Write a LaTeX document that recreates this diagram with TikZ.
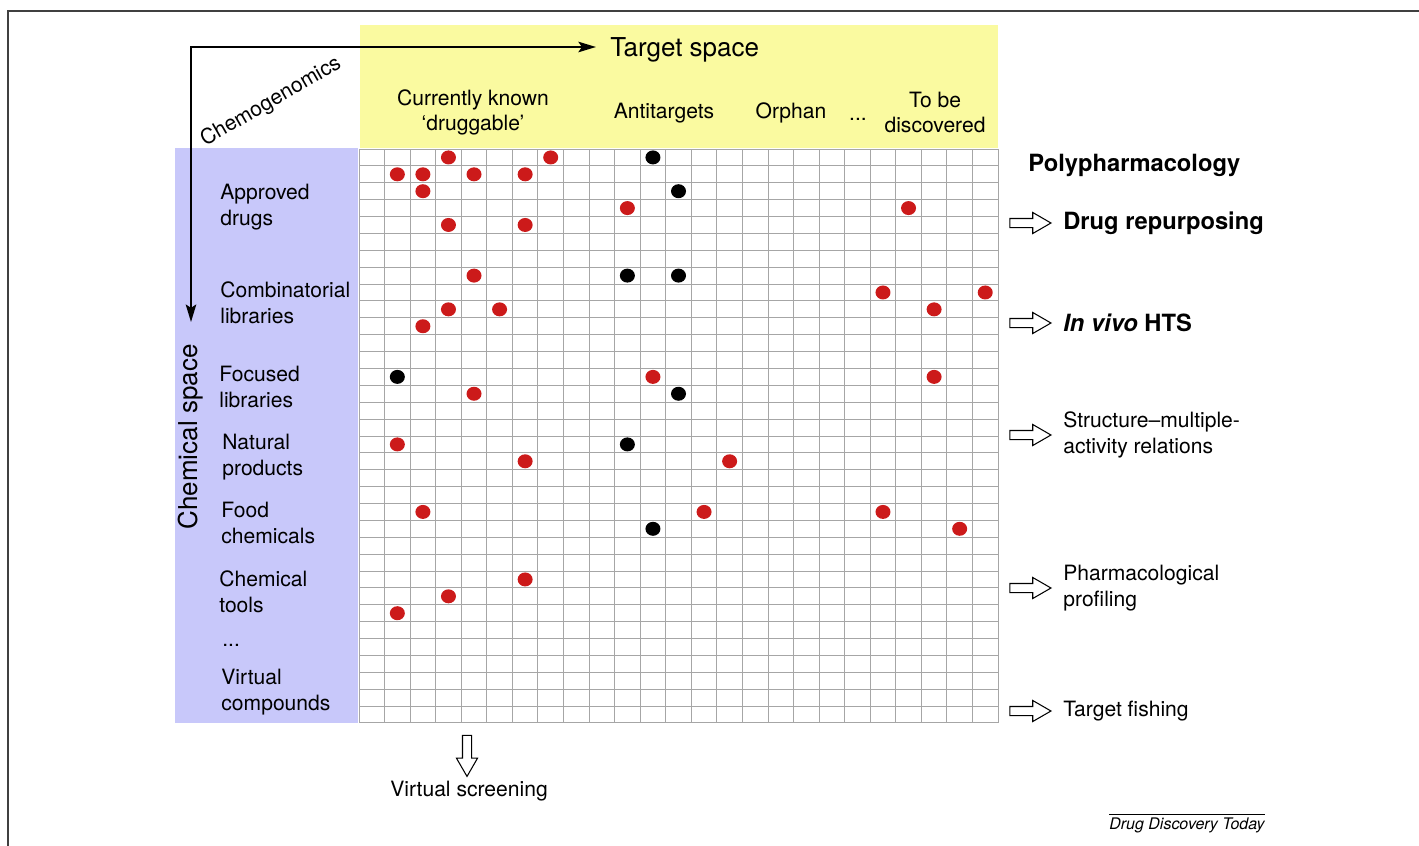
\documentclass[tikz,border=0pt]{standalone}
\usepackage{fontspec}
\setmainfont{TeX Gyre Heros}
\usetikzlibrary{arrows.meta,shapes.arrows,positioning}

\definecolor{tyellow}{RGB}{250,250,160}
\definecolor{cpurple}{RGB}{200,200,250}
\definecolor{dotred}{RGB}{204,26,26}

\tikzset{
lab/.style={anchor=west, align=left, inner sep=0pt, font=\fontsize{12}{14.6}\selectfont},
head/.style={align=center, inner sep=0pt, font=\fontsize{12}{14.2}\selectfont},
big/.style={inner sep=0pt, font=\fontsize{14.8}{17}\selectfont},
use/.style={anchor=west, inner sep=0pt, font=\fontsize{13.5}{16}\selectfont\bfseries},
hollow/.style={single arrow, draw, line width=0.6pt, fill=white, inner sep=0.08cm,
  minimum height=0.82cm, minimum width=0.4cm, single arrow head extend=0.12cm,
  single arrow tip angle=60},
gridline/.style={gray!70, line width=0.5pt}
}

\begin{document}
\begin{tikzpicture}[x=0.02cm, y=-0.02cm]
\useasboundingbox (0,0) rectangle (1419,845);
\clip (0,0) rectangle (1419,845);

% frame
\draw[line width=1pt, black!75] (8,860) -- (8,11) -- (1430,11);

% target and chemical space
\fill[tyellow] (360,25) rectangle (998,148);
\fill[cpurple] (175,148) rectangle (358,723);

% the matrix
\foreach \i in {0,...,25}
  \draw[gridline] ({359+\i*25.56},149) -- ({359+\i*25.56},723);
\foreach \j in {0,...,34}
  \draw[gridline] (359,{149+\j*16.88}) -- (998,{149+\j*16.88});

\foreach \c/\r in {3/0,7/0,1/1,2/1,4/1,6/1,2/2,10/3,21/3,3/4,6/4,4/7,20/8,24/8,
  3/9,5/9,22/9,2/10,11/13,22/13,4/14,1/17,6/18,14/18,2/21,13/21,20/21,23/22,
  6/25,3/26,1/27}
  \fill[dotred] ({359+(\c+0.5)*25.56},{149+(\r+0.5)*16.88}) ellipse [x radius=7.5, y radius=7];
\foreach \c/\r in {11/0,12/2,10/7,12/7,1/13,12/14,10/17,11/22}
  \fill[black] ({359+(\c+0.5)*25.56},{149+(\r+0.5)*16.88}) ellipse [x radius=7.5, y radius=7];

% headings
\node[big, anchor=west] (tspace) at (610,50) {Target space};
\node[big, rotate=90] (cspace) at (191,437) {Chemical space};
\node[head, rotate=30] (chemo) at (271,102) {Chemogenomics};

\node[head] (known) at (473,112) {Currently known\\‘druggable’};
\node[head] (anti) at (664,113) {Antitargets};
\node[head] (orphan) at (791,113) {Orphan};
\node[head, anchor=base] (hdots) at (858,120) {...};
\node[head] (tobe) at (935,112) {To be\\discovered};

\coordinate (corner) at (191,47);
\coordinate (csend) at (191,322);
\draw[line width=1pt, {Stealth[length=10pt, width=6pt, inset=2pt]}-{Stealth[length=10pt, width=6pt, inset=2pt]}, shorten >=8pt]
  (csend) -- (corner) -- (corner -| tspace.west);

% compound classes
\node[lab] (approved) at (220,207) {Approved\\drugs};
\node[lab] (combi) at (220,303) {Combinatorial\\libraries};
\node[lab] (focused) at (219,387) {Focused\\libraries};
\node[lab] (natural) at (222,457) {Natural\\products};
\node[lab] (food) at (221,523) {Food\\chemicals};
\node[lab] (tools) at (219,592) {Chemical\\tools};
\node[lab, anchor=base west] (rdots) at (222,646) {...};
\node[lab] (virtual) at (221,692) {Virtual\\compounds};

% applications
\node[use] (poly) at (1028,165) {Polypharmacology};
\node[use] (repurp) at (1063,223) {Drug repurposing};
\node[use] (hts) at (1063,323) {\itshape In vivo\/ \upshape HTS};
\node[lab] (sar) at (1063,435) {Structure–multiple-\\activity relations};
\node[lab] (profil) at (1063,588) {Pharmacological\\profiling};
\node[lab] (fishing) at (1063,711) {Target fishing};

\node[hollow, left=0.22cm of repurp] (arepurp) {};
\node[hollow, left=0.22cm of hts] (ahts) {};
\node[hollow, left=0.22cm of sar] (asar) {};
\node[hollow, left=0.22cm of profil] (aprofil) {};
\node[hollow, left=0.22cm of fishing] (afishing) {};

\node[head] (vscreen) at (469,791) {Virtual screening};
\node[hollow, shape border rotate=270] (avscreen) at (467,752) {};

% source
\node[anchor=east, inner sep=0pt, font=\fontsize{9.1}{10}\selectfont\itshape] (ddt) at (1265,825) {Drug Discovery Today};
\draw[line width=0.5pt] ([yshift=1.5pt]ddt.north west) -- ([yshift=1.5pt]ddt.north east);
\end{tikzpicture}
\end{document}
